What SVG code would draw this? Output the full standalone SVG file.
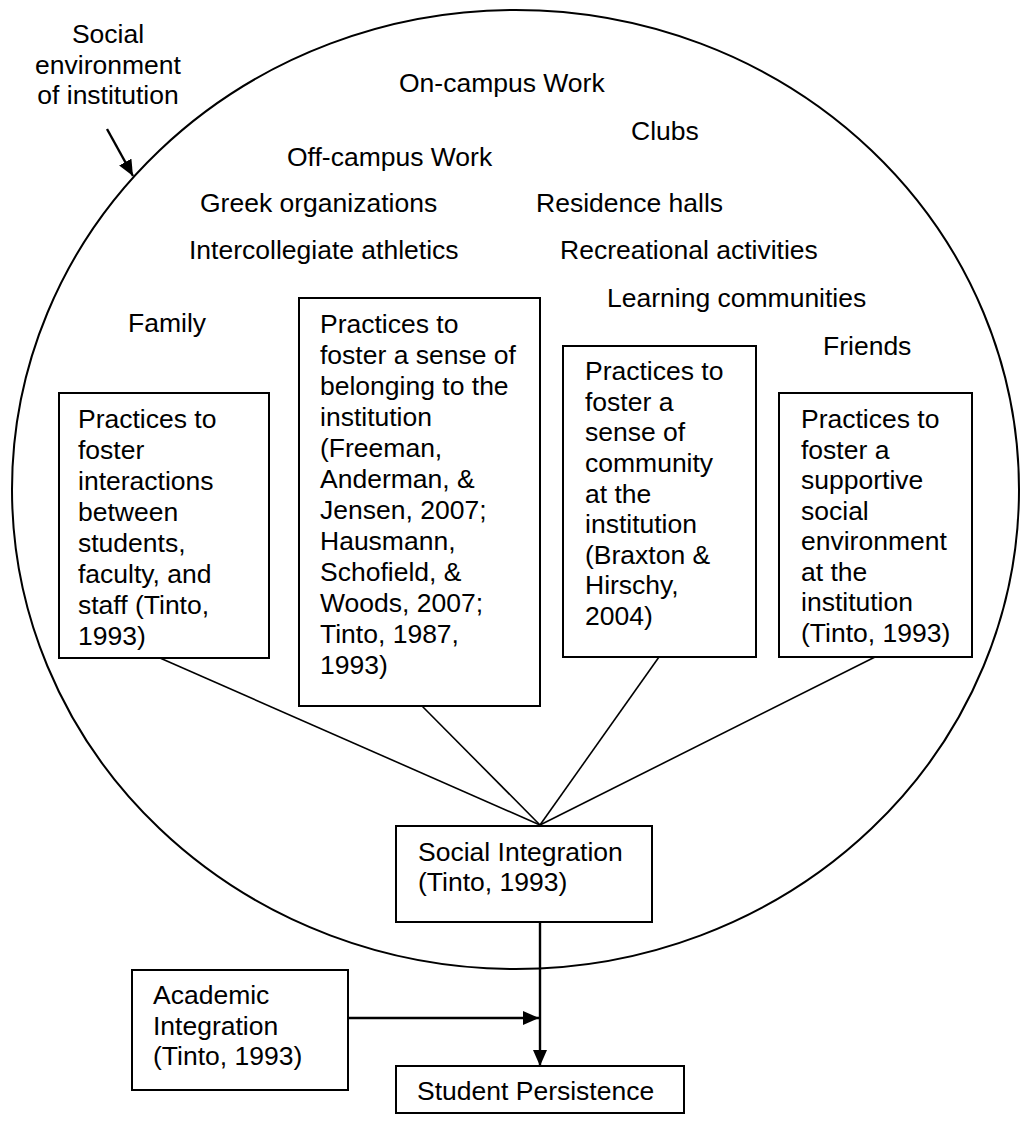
<svg xmlns="http://www.w3.org/2000/svg" width="1021" height="1121" viewBox="0 0 1021 1121">
<defs>
<style>
text{font-family:"Liberation Sans",Arial,sans-serif;font-size:26.5px;fill:#000}
.box{fill:#fff;stroke:#000;stroke-width:2}
.ln{stroke:#000;stroke-width:1.6;fill:none}
.ar{stroke:#000;stroke-width:2.4;fill:none}
</style>
<marker id="ah" viewBox="0 0 16 14" refX="16" refY="7" markerWidth="16" markerHeight="14" markerUnits="userSpaceOnUse" orient="auto">
<path d="M0,0 L16,7 L0,14 Z" fill="#000"/>
</marker>
</defs>
<rect width="1021" height="1121" fill="#fff"/>

<g id="environment">
<ellipse cx="515.5" cy="489.5" rx="503.5" ry="479.5" fill="none" stroke="#000" stroke-width="2"/>
<text x="108" y="43" text-anchor="middle">Social</text>
<text x="108" y="74" text-anchor="middle">environment</text>
<text x="108" y="104" text-anchor="middle">of institution</text>
</g>

<g id="labels">
<text x="399" y="92">On-campus Work</text>
<text x="631" y="140">Clubs</text>
<text x="287" y="166">Off-campus Work</text>
<text x="200" y="212">Greek organizations</text>
<text x="536" y="212">Residence halls</text>
<text x="189" y="259">Intercollegiate athletics</text>
<text x="560" y="259">Recreational activities</text>
<text x="607" y="307">Learning communities</text>
<text x="128" y="332">Family</text>
<text x="823" y="355">Friends</text>
</g>

<g id="connectors">
<line class="ar" x1="107" y1="129" x2="133" y2="176" marker-end="url(#ah)"/>
<line class="ln" x1="160" y1="658" x2="540" y2="825"/>
<line class="ln" x1="422" y1="706" x2="540" y2="825"/>
<line class="ln" x1="659" y1="657" x2="540" y2="825"/>
<line class="ln" x1="875" y1="657" x2="540" y2="825"/>
<line class="ar" x1="540" y1="922" x2="540" y2="1066" marker-end="url(#ah)"/>
<line class="ar" x1="348" y1="1018" x2="539" y2="1018" marker-end="url(#ah)"/>
</g>

<g id="box-interactions">
<rect class="box" x="59" y="393" width="210" height="265"/>
<text x="78" y="428">Practices to</text>
<text x="78" y="459">foster</text>
<text x="78" y="490">interactions</text>
<text x="78" y="521">between</text>
<text x="78" y="552">students,</text>
<text x="78" y="583">faculty, and</text>
<text x="78" y="614">staff (Tinto,</text>
<text x="78" y="645">1993)</text>
</g>

<g id="box-belonging">
<rect class="box" x="299" y="298" width="241" height="408"/>
<text x="320" y="333">Practices to</text>
<text x="320" y="364">foster a sense of</text>
<text x="320" y="395">belonging to the</text>
<text x="320" y="426">institution</text>
<text x="320" y="457">(Freeman,</text>
<text x="320" y="488">Anderman, &amp;</text>
<text x="320" y="519">Jensen, 2007;</text>
<text x="320" y="550">Hausmann,</text>
<text x="320" y="581">Schofield, &amp;</text>
<text x="320" y="612">Woods, 2007;</text>
<text x="320" y="643">Tinto, 1987,</text>
<text x="320" y="674">1993)</text>
</g>

<g id="box-community">
<rect class="box" x="563" y="346" width="193" height="311"/>
<text x="585" y="380">Practices to</text>
<text x="585" y="411">foster a</text>
<text x="585" y="441">sense of</text>
<text x="585" y="472">community</text>
<text x="585" y="503">at the</text>
<text x="585" y="533">institution</text>
<text x="585" y="564">(Braxton &amp;</text>
<text x="585" y="594">Hirschy,</text>
<text x="585" y="625">2004)</text>
</g>

<g id="box-supportive">
<rect class="box" x="779" y="393" width="193" height="264"/>
<text x="801" y="428">Practices to</text>
<text x="801" y="459">foster a</text>
<text x="801" y="489">supportive</text>
<text x="801" y="520">social</text>
<text x="801" y="550">environment</text>
<text x="801" y="581">at the</text>
<text x="801" y="611">institution</text>
<text x="801" y="642">(Tinto, 1993)</text>
</g>

<g id="box-social-integration">
<rect class="box" x="396" y="826" width="256" height="96"/>
<text x="418" y="861">Social Integration</text>
<text x="418" y="891">(Tinto, 1993)</text>
</g>

<g id="box-academic-integration">
<rect class="box" x="132" y="970" width="216" height="120"/>
<text x="153" y="1004">Academic</text>
<text x="153" y="1035">Integration</text>
<text x="153" y="1065">(Tinto, 1993)</text>
</g>

<g id="box-student-persistence">
<rect class="box" x="396" y="1066" width="288" height="47"/>
<text x="417" y="1100">Student Persistence</text>
</g>
</svg>
